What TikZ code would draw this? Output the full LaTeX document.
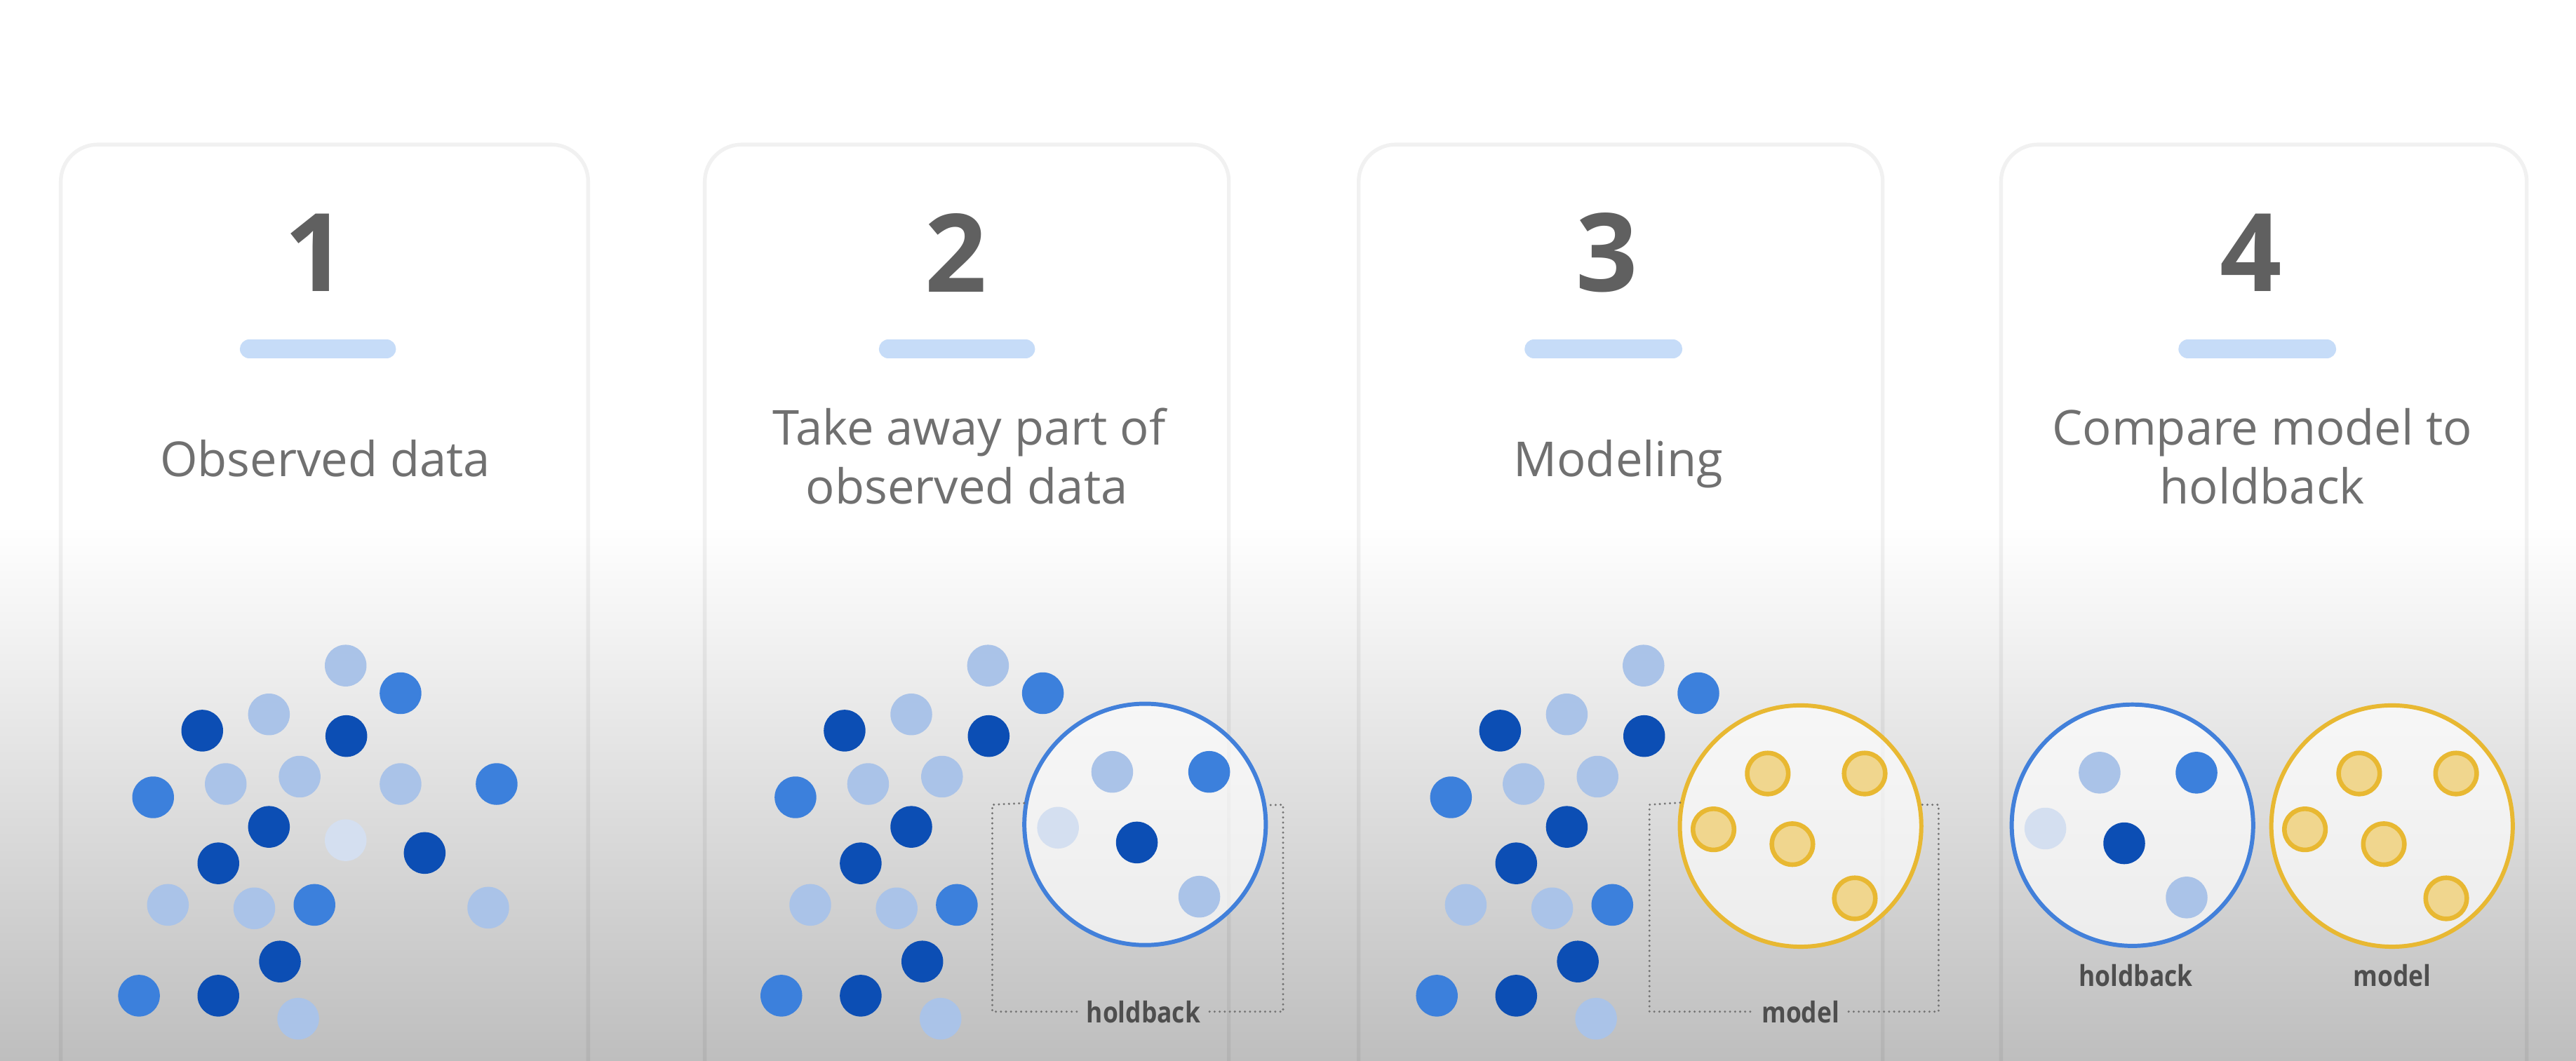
\documentclass[tikz,border=0pt]{standalone}
\usepackage{fontspec}
\setmainfont{Open Sans}
\newfontfamily\labelfont{Open Sans}[FakeStretch=0.86]
\definecolor{dk}{RGB}{12,78,180}
\definecolor{md}{RGB}{60,128,220}
\definecolor{lt}{RGB}{170,195,232}
\definecolor{ft}{RGB}{212,223,240}
\definecolor{ringblue}{RGB}{66,128,218}
\definecolor{ringyellow}{RGB}{232,184,50}
\definecolor{yfill}{RGB}{240,214,142}
\definecolor{barblue}{RGB}{198,220,248}
\definecolor{numgray}{RGB}{96,96,96}
\definecolor{txtgray}{RGB}{112,112,112}
\definecolor{lblgray}{RGB}{78,78,78}
\definecolor{bottomgray}{RGB}{190,190,190}
\def\commondots{210.4/405.3/lt, 243.8/422.1/md, 123.1/444.9/dk, 163.7/435/lt, 210.8/448.2/dk, 93.2/485.5/md, 137.4/477.4/lt, 182.4/472.9/lt, 163.7/503.5/dk, 132.9/525.7/dk, 102.2/551/lt, 154.8/553.1/lt, 191.4/551/md, 170.4/585.5/dk, 84.6/606.3/md, 132.9/606.3/dk, 181.5/620.3/lt}
\def\onlyfirst{243.8/477.4/lt, 302.3/477.4/md, 210.4/511.6/ft, 258.5/519.4/dk, 297.2/552.7/lt}
\def\ringdots{-20/-32/lt, 39/-32/md, -53/2/ft, -5/11/dk, 33/44/lt}
\begin{document}
\begin{tikzpicture}[x=0.02cm, y=-0.02cm,
  dot/.style={circle, inner sep=0pt, minimum size=0.508cm, fill=#1},
  ydot/.style={circle, inner sep=0pt, minimum size=0.5cm, fill=yfill, draw=ringyellow, line width=1.6pt},
  ring/.style={circle, inner sep=0pt, minimum size=2.94cm, draw=#1, fill=white, fill opacity=0.65, draw opacity=1, line width=1.45pt},
  panel/.style={draw=black, draw opacity=0.055, line width=1.3pt, rounded corners=0.45cm},
  numtxt/.style={font=\bfseries\fontsize{37.6}{40}\selectfont, text=numgray, inner sep=0pt},
  body/.style={font=\fontsize{16.7}{20}\selectfont, text=txtgray, inner sep=0pt, anchor=base},
  bar/.style={barblue, line width=0.23cm, line cap=round},
  boxline/.style={draw=black!55, line width=0.8pt, line cap=round, dash pattern=on 0pt off 1.75pt},
  lbl/.style={font=\labelfont\bfseries\fontsize{10}{12}\selectfont, text=lblgray, inner xsep=3pt, inner ysep=1pt}
]
\useasboundingbox (0,0) rectangle (1568,645.66);
\clip (0,0) rectangle (1568,645.66);
\fill[white] (0,0) rectangle (1568,645.66);
\shade[top color=white, bottom color=bottomgray] (0,320) rectangle (1568,645.66);
% panels
\draw[panel] (37,88) rectangle (358,720);
\draw[panel] (429,88) rectangle (748,720);
\draw[panel] (827,88) rectangle (1146,720);
\draw[panel] (1218,88) rectangle (1538,720);
% numbers
\node[numtxt] (n1) at (192,154) {1};
\node[numtxt] (n2) at (582,154) {2};
\node[numtxt] (n3) at (978,154) {3};
\node[numtxt] (n4) at (1370,154) {4};
% bars
\coordinate (b1a) at (151.75,212.5); \coordinate (b1b) at (235.25,212.5);
\coordinate (b2a) at (540.75,212.5); \coordinate (b2b) at (624.25,212.5);
\coordinate (b3a) at (933.75,212.5); \coordinate (b3b) at (1018.25,212.5);
\coordinate (b4a) at (1331.75,212.5); \coordinate (b4b) at (1416.25,212.5);
\draw[bar] (b1a) -- (b1b);
\draw[bar] (b2a) -- (b2b);
\draw[bar] (b3a) -- (b3b);
\draw[bar] (b4a) -- (b4b);
% captions
\node[body] (t1) at (198,290) {Observed data};
\node[body] (t2a) at (590,271) {Take away part of};
\node[body] (t2b) at (588.5,306.7) {observed data};
\node[body] (t3) at (985,290) {Modeling};
\node[body] (t4a) at (1377,271) {Compare model to};
\node[body] (t4b) at (1377,306.7) {holdback};
% panel 1 dots
\foreach \x/\y/\c [count=\i] in \commondots { \node[dot=\c] (pa\i) at (\x,\y) {}; }
\foreach \x/\y/\c [count=\i] in \onlyfirst { \node[dot=\c] (pb\i) at (\x,\y) {}; }
% panel 2
\foreach \x/\y/\c [count=\i] in \commondots { \node[dot=\c] (qa\i) at ({\x+391},\y) {}; }
\node[ring=ringblue] (hold2) at (697,502) {};
\node[lbl] (lh2) at (696,616) {holdback};
\draw[boxline] (hold2.170.6) -- (604,490) -- (604,616) -- (lh2.west);
\draw[boxline] (lh2.east) -- (781,616) -- (781,490) -- (hold2.9.4);
\foreach \dx/\dy/\c [count=\i] in \ringdots { \node[dot=\c] (qh\i) at ({697+\dx},{502+\dy}) {}; }
% panel 3
\foreach \x/\y/\c [count=\i] in \commondots { \node[dot=\c] (ra\i) at ({\x+790},\y) {}; }
\node[ring=ringyellow] (model3) at (1096,503) {};
\node[lbl] (lm3) at (1096,616) {model};
\draw[boxline] (model3.169.8) -- (1004,490) -- (1004,616) -- (lm3.west);
\draw[boxline] (lm3.east) -- (1180,616) -- (1180,490) -- (model3.10.2);
\foreach \dx/\dy/\c [count=\i] in \ringdots { \node[ydot] (rm\i) at ({1096+\dx},{503+\dy}) {}; }
% panel 4
\node[ring=ringblue] (hold4) at (1298,502.5) {};
\foreach \dx/\dy/\c [count=\i] in \ringdots { \node[dot=\c] (sh\i) at ({1298+\dx},{502.5+\dy}) {}; }
\node[ring=ringyellow] (model4) at (1456,503) {};
\foreach \dx/\dy/\c [count=\i] in \ringdots { \node[ydot] (sm\i) at ({1456+\dx},{503+\dy}) {}; }
\node[lbl] (lh4) at (1300,594) {holdback};
\node[lbl] (lm4) at (1456,594) {model};
\end{tikzpicture}
\end{document}
